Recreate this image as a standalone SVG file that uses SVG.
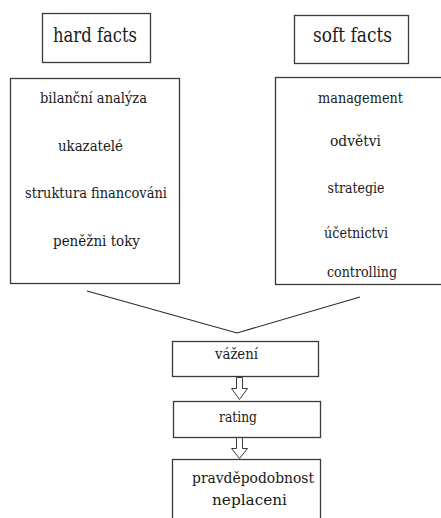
<svg xmlns="http://www.w3.org/2000/svg" width="441" height="518" viewBox="0 0 441 518">
<style>
.box{fill:#fff;stroke:#3a3a3a;stroke-width:1.3}
text{font-family:'DejaVu Serif Condensed','DejaVu Serif',serif;fill:#1a1a1a;text-anchor:middle;font-size:15px}
.h{font-size:19.5px}
.ln{fill:none;stroke:#2a2a2a;stroke-width:1.1}
.ar{fill:#fff;stroke:#3a3a3a;stroke-width:1}
</style>
<rect width="441" height="518" fill="#fff"/>
<g id="hard-facts">
<rect class="box" x="42.5" y="13.5" width="108" height="49"/>
<text class="h" x="95" y="42" textLength="84" lengthAdjust="spacingAndGlyphs">hard facts</text>
</g>
<g id="soft-facts">
<rect class="box" x="294.5" y="15.5" width="114" height="48"/>
<text class="h" x="352.5" y="42" textLength="79" lengthAdjust="spacingAndGlyphs">soft facts</text>
</g>
<g id="hard-list">
<rect class="box" x="10.5" y="78.5" width="169" height="205"/>
<text x="93.5" y="103" textLength="107" lengthAdjust="spacingAndGlyphs">bilanční analýza</text>
<text x="90.5" y="150.5" textLength="65" lengthAdjust="spacingAndGlyphs">ukazatelé</text>
<text x="96" y="198" textLength="142" lengthAdjust="spacingAndGlyphs">struktura financováni</text>
<text x="96.5" y="245.5" textLength="87" lengthAdjust="spacingAndGlyphs">peněžni toky</text>
</g>
<g id="soft-list">
<rect class="box" x="275.5" y="77.5" width="170" height="207"/>
<text x="360.5" y="102.5" textLength="85" lengthAdjust="spacingAndGlyphs">management</text>
<text x="355.5" y="146" textLength="51" lengthAdjust="spacingAndGlyphs">odvětvi</text>
<text x="356" y="192.5" textLength="57" lengthAdjust="spacingAndGlyphs">strategie</text>
<text x="356" y="238" textLength="64" lengthAdjust="spacingAndGlyphs">účetnictvi</text>
<text x="362" y="276.5" textLength="70" lengthAdjust="spacingAndGlyphs">controlling</text>
</g>
<g id="connectors">
<polyline class="ln" points="87,291 237,333 360,297"/>
<path class="ar" d="M236.5,377.5 h6 v11 h5 l-8,11 l-8,-11 h5 z"/>
<path class="ar" d="M236.5,437.5 h6 v11 h5 l-8,10 l-8,-10 h5 z"/>
</g>
<g id="vazeni">
<rect class="box" x="172.5" y="341.5" width="146" height="35"/>
<text x="236.5" y="358.5" textLength="43" lengthAdjust="spacingAndGlyphs">vážení</text>
</g>
<g id="rating">
<rect class="box" x="173.5" y="401.5" width="147" height="36"/>
<text x="238" y="422" textLength="38" lengthAdjust="spacingAndGlyphs">rating</text>
</g>
<g id="pravdepodobnost">
<rect class="box" x="172.5" y="459.5" width="148" height="66"/>
<text x="253" y="483" textLength="122" lengthAdjust="spacingAndGlyphs">pravděpodobnost</text>
<text x="249.5" y="505" textLength="75" lengthAdjust="spacingAndGlyphs">neplaceni</text>
</g>
</svg>
